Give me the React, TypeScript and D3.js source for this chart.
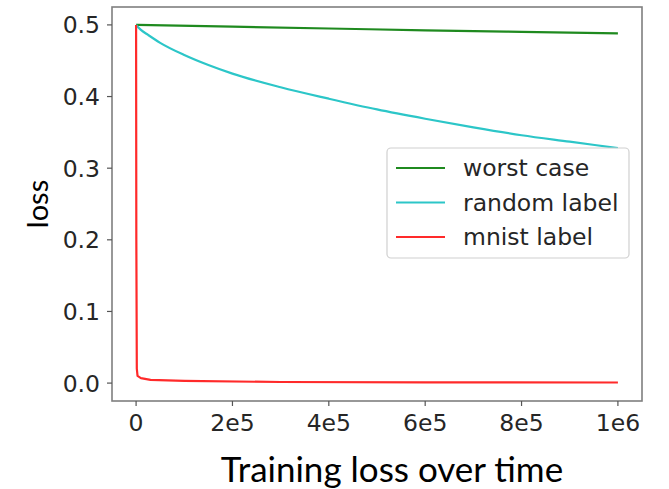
import React from "react";
import * as d3 from "d3";

const worstX = [0, 2e5, 4e5, 6e5, 8e5, 1e6];
const worstY = [0.5, 0.4975, 0.495, 0.4925, 0.4903, 0.4882];

const randomX = [0, 1e4, 2.5e4, 5e4, 1e5, 1.5e5, 2e5, 3e5, 4e5, 5e5, 6e5, 7e5, 8e5, 9e5, 1e6];
const randomY = [0.5, 0.493, 0.486, 0.475, 0.458, 0.444, 0.432, 0.413, 0.397, 0.382, 0.369, 0.357, 0.346, 0.337, 0.328];

const mnistX = [0, 500, 1500, 3000, 1e4, 3e4, 1e5, 3e5, 6e5, 1e6];
const mnistY = [0.5, 0.2, 0.02, 0.01, 0.007, 0.0045, 0.003, 0.0015, 0.001, 0.0008];

const xTicks = [0, 2e5, 4e5, 6e5, 8e5, 1e6];
const xTickLabels = ["0", "2e5", "4e5", "6e5", "8e5", "1e6"];
const yTicks = [0.0, 0.1, 0.2, 0.3, 0.4, 0.5];
const yTickLabels = ["0.0", "0.1", "0.2", "0.3", "0.4", "0.5"];

const seriesNames = ["worst case", "random label", "mnist label"];
const seriesColors = ["#1f8a1f", "#2cc6c8", "#ff2a2a"];

export default function App() {
  const W = 669, H = 489;
  const left = 112, right = 642, top = 7, bottom = 401;
  const x = d3.scaleLinear().domain([-5e4, 1.05e6]).range([left, right]);
  const y = d3.scaleLinear().domain([-0.025, 0.525]).range([bottom, top]);
  const smooth = d3.line<[number, number]>().x(d => x(d[0])).y(d => y(d[1])).curve(d3.curveMonotoneX);
  const straight = d3.line<[number, number]>().x(d => x(d[0])).y(d => y(d[1]));
  const series = [
    worstX.map((v, i) => [v, worstY[i]] as [number, number]),
    randomX.map((v, i) => [v, randomY[i]] as [number, number]),
    mnistX.map((v, i) => [v, mnistY[i]] as [number, number]),
  ];
  const tickFont = "'DejaVu Sans', sans-serif";
  const fs = 23.5;
  const lg = { x: 387, y: 148, w: 242, h: 110 };
  return (
    <svg width={W} height={H} style={{ position: "absolute", left: 0, top: 0, background: "#fff" }}>
      <rect x={0} y={0} width={W} height={H} fill="#fff" />
      {series.map((s, i) => (
        <path key={i} d={(i === 2 ? straight(s) : smooth(s)) || ""} fill="none" stroke={seriesColors[i]} strokeWidth={2.2} strokeLinejoin="round" />
      ))}
      <rect x={left} y={top} width={right - left} height={bottom - top} fill="none" stroke="#7f7f7f" strokeWidth={1.6} />
      {xTicks.map((t, i) => (
        <g key={i}>
          <line x1={x(t)} x2={x(t)} y1={bottom} y2={bottom + 5} stroke="#555" strokeWidth={1.2} />
          <text x={x(t)} y={431} textAnchor="middle" fontFamily={tickFont} fontSize={fs} fill="#262626">{xTickLabels[i]}</text>
        </g>
      ))}
      {yTicks.map((t, i) => (
        <g key={i}>
          <line x1={left - 5} x2={left} y1={y(t)} y2={y(t)} stroke="#555" strokeWidth={1.2} />
          <text x={100} y={y(t) + 8.5} textAnchor="end" fontFamily={tickFont} fontSize={fs} fill="#262626">{yTickLabels[i]}</text>
        </g>
      ))}
      <rect x={lg.x} y={lg.y} width={lg.w} height={lg.h} rx={4} fill="#fff" fillOpacity={0.85} stroke="#d0d0d0" strokeWidth={1.2} />
      {seriesNames.map((n, i) => {
        const cy = 168 + i * 34.5;
        return (
          <g key={i}>
            <line x1={396} x2={445} y1={cy} y2={cy} stroke={seriesColors[i]} strokeWidth={2.2} />
            <text x={463} y={cy + 8} fontFamily={tickFont} fontSize={fs} fill="#262626">{n}</text>
          </g>
        );
      })}
      <text x={392} y={482} textAnchor="middle" fontFamily="Lato, 'Open Sans', sans-serif" fontSize={35} fill="#000">Training loss over time</text>
      <text transform={`translate(48,204) rotate(-90)`} textAnchor="middle" fontFamily="Lato, 'Open Sans', sans-serif" fontSize={29} fill="#000">loss</text>
    </svg>
  );
}
